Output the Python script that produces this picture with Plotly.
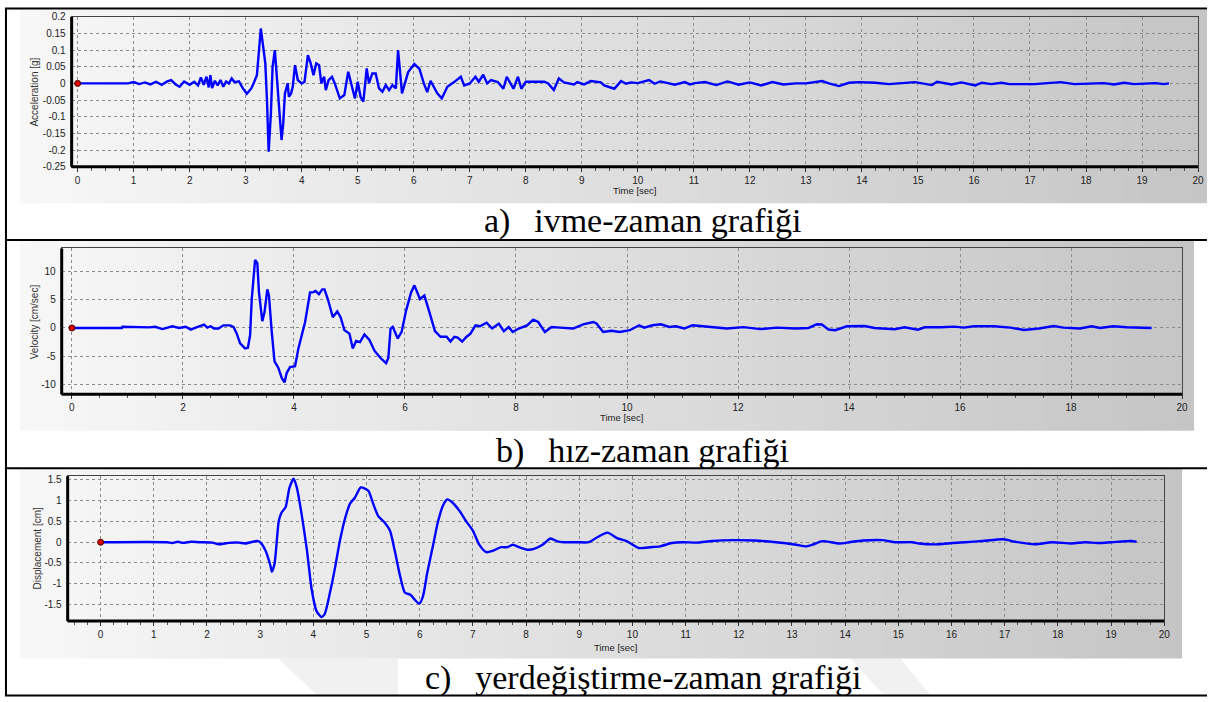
import plotly.graph_objects as go

W, H = 1213, 702

# ---- values, time in seconds ----
ACC_T = [0, 0.9, 1.0, 1.1, 1.2, 1.3, 1.4, 1.5, 1.6, 1.67, 1.75, 1.82, 1.9, 2.0, 2.08, 2.15, 2.2, 2.25,
         2.3, 2.34, 2.37, 2.4, 2.45, 2.5, 2.55, 2.6, 2.65, 2.7, 2.75, 2.8, 2.88, 2.95, 3.02, 3.1, 3.14,
         3.2, 3.27, 3.31, 3.35, 3.38, 3.41, 3.45, 3.48, 3.52, 3.56, 3.6, 3.64, 3.67, 3.7, 3.75, 3.77,
         3.81, 3.84, 3.88, 3.93, 4.0, 4.05, 4.11, 4.16, 4.21, 4.26, 4.31, 4.35, 4.4, 4.43, 4.48, 4.54,
         4.59, 4.68, 4.76, 4.83, 4.89, 4.95, 5.0, 5.05, 5.1, 5.16, 5.2, 5.26, 5.32, 5.38, 5.44, 5.5,
         5.56, 5.62, 5.68, 5.72, 5.79, 5.9, 6.01, 6.1, 6.18, 6.24, 6.3, 6.42, 6.5, 6.6, 6.72, 6.84,
         6.9, 7.0, 7.1, 7.16, 7.24, 7.31, 7.38, 7.5, 7.6, 7.66, 7.78, 7.86, 7.92, 8.0, 8.33, 8.4, 8.5,
         8.59, 8.68, 8.86, 8.92, 9.04, 9.16, 9.34, 9.4, 9.58, 9.7, 9.79, 9.88, 10.0, 10.2, 10.3, 10.4,
         10.58, 10.66, 10.84, 10.93, 11.02, 11.2, 11.4, 11.6, 11.8, 12.0, 12.2, 12.4, 12.6, 12.82,
         13.0, 13.29, 13.41, 13.59, 13.77, 13.95, 14.24, 14.48, 14.95, 15.25, 15.34, 15.6, 15.78,
         16.02, 16.14, 16.31, 16.49, 16.63, 17.08, 17.55, 17.79, 18.32, 18.5, 18.68, 18.86, 19.24,
         19.39, 19.48]
ACC_G = [0, 0, 0.004, -0.002, 0.003, -0.003, 0.005, -0.004, 0.006, 0.01, -0.003, -0.01, 0.006, -0.004,
         0.005, -0.006, 0.018, -0.004, 0.02, -0.012, 0.025, -0.014, 0.008, -0.006, 0.01, -0.01, 0.006,
         0.0, 0.015, 0.004, 0.006, -0.015, -0.031, -0.015, 0.0, 0.025, 0.165, 0.12, 0.06, -0.05,
         -0.205, -0.09, 0.05, 0.1, 0.02, -0.08, -0.17, -0.12, -0.03, 0.0, -0.04, -0.03, -0.01, 0.055,
         0.01, 0.0, 0.005, 0.085, 0.06, 0.025, 0.06, 0.055, 0.0, 0.02, -0.02, 0.01, 0.02, 0.0, -0.045,
         -0.035, 0.035, -0.01, -0.045, 0.005, -0.04, -0.055, 0.045, 0.0, 0.03, 0.03, -0.015, -0.025,
         -0.005, -0.02, -0.005, -0.015, 0.1, -0.03, 0.034, 0.058, 0.044, 0.0, -0.026, 0.008, -0.03,
         -0.045, -0.01, 0.004, 0.02, -0.006, 0.0, 0.02, 0.005, 0.026, 0.0, 0.01, 0.004, -0.016, 0.02,
         -0.016, 0.02, -0.016, 0.005, 0.005, 0.0, -0.02, 0.015, 0.003, -0.003, 0.004, -0.003, 0.007,
         0.003, -0.006, -0.016, 0.007, -0.001, 0.003, 0.001, 0.01, -0.001, 0.006, -0.001, -0.004, 0.004,
         -0.003, 0.001, 0.004, -0.005, 0.006, -0.004, 0.003, -0.006, 0.004, -0.003, 0.0, 0.0, 0.007,
         0.0, -0.008, 0.002, 0.004, 0.002, -0.002, 0.004, -0.005, 0.005, -0.003, 0.003, -0.006, 0.002,
         -0.002, 0.002, -0.002, -0.002, 0.004, -0.002, 0.001, -0.003, 0.002, -0.002, 0.001, -0.002, 0.0]

VEL_T = [0, 0.9, 0.91, 1.15, 1.39, 1.5, 1.63, 1.81, 1.93, 2.05, 2.14, 2.23, 2.29, 2.38, 2.44, 2.5, 2.56,
         2.64, 2.73, 2.85, 2.91, 2.97, 3.03, 3.12, 3.17, 3.21, 3.24, 3.3, 3.34, 3.37, 3.43, 3.47, 3.52,
         3.55, 3.6, 3.65, 3.72, 3.78, 3.83, 3.87, 3.93, 4.02, 4.08, 4.14, 4.2, 4.29, 4.35, 4.39, 4.45,
         4.51, 4.55, 4.61, 4.7, 4.78, 4.84, 4.91, 5.0, 5.06, 5.12, 5.19, 5.27, 5.36, 5.45, 5.56, 5.66,
         5.7, 5.74, 5.78, 5.87, 5.94, 6.02, 6.11, 6.17, 6.27, 6.35, 6.44, 6.54, 6.64, 6.75, 6.82, 6.89,
         6.95, 7.03, 7.11, 7.18, 7.27, 7.35, 7.47, 7.57, 7.69, 7.78, 7.87, 7.94, 8.05, 8.2, 8.31, 8.4,
         8.52, 8.64, 8.79, 8.91, 9.03, 9.21, 9.39, 9.45, 9.57, 9.72, 9.87, 10.05, 10.22, 10.31, 10.46,
         10.61, 10.76, 10.88, 11.03, 11.18, 11.5, 11.8, 12.1, 12.4, 12.7, 13.03, 13.27, 13.42, 13.51,
         13.63, 13.75, 13.96, 14.28, 14.46, 14.82, 15.0, 15.24, 15.36, 15.66, 15.9, 16.07, 16.25,
         16.61, 16.91, 17.15, 17.42, 17.69, 17.86, 18.16, 18.37, 18.52, 18.76, 19.0, 19.45]
VEL_CM = [0, 0, 0.2, 0.1, 0.1, 0.2, -0.2, 0.3, 0.0, 0.2, -0.3, 0.05, 0.3, 0.6, 0.06, 0.3, -0.1, -0.1,
          0.46, 0.46, 0.2, -1.0, -2.7, -3.6, -3.5, -1.3, 5.1, 12.0, 11.4, 6.2, 1.2, 2.8, 6.8, 5.7, -0.7,
          -5.9, -7.05, -8.8, -9.6, -7.9, -6.9, -6.75, -3.6, -1.3, 1.0, 6.25, 6.3, 6.5, 5.95, 6.8, 6.8,
          5.1, 1.9, 2.9, 1.9, -0.4, -1.0, -3.6, -2.3, -2.5, -1.15, -2.1, -4.0, -5.3, -6.2, -5.3, -0.1,
          0.2, -1.85, -0.7, 3.06, 6.25, 7.5, 5.1, 5.7, 2.8, -0.57, -1.55, -1.55, -2.4, -1.55, -1.7,
          -2.4, -1.55, -1.0, 0.46, 0.3, 0.93, -0.1, 0.75, -0.57, 0.17, -0.7, -0.1, 0.46, 1.45, 1.05,
          -0.7, 0.18, 0.06, 0.0, -0.1, 0.64, 1.05, 0.8, -0.7, -0.5, -0.7, -0.4, 0.47, 0.06, 0.47, 0.64,
          0.18, 0.3, -0.1, 0.47, 0.2, -0.1, 0.15, -0.2, 0.05, -0.1, 0.0, 0.65, 0.6, -0.28, -0.4, 0.3,
          0.35, 0.0, -0.23, 0.12, -0.3, 0.12, 0.12, 0.23, 0.06, 0.3, 0.3, 0.06, -0.35, -0.1, 0.35, 0.06,
          -0.1, 0.3, 0.0, 0.3, 0.12, 0.0]

DSP_T = [0, 1.25, 1.35, 1.45, 1.55, 1.7, 1.85, 2.1, 2.22, 2.41, 2.6, 2.72, 2.94, 3.0, 3.1, 3.19, 3.22,
         3.27, 3.35, 3.4, 3.48, 3.55, 3.63, 3.69, 3.78, 3.88, 3.97, 4.06, 4.15, 4.21, 4.31, 4.41, 4.5,
         4.6, 4.69, 4.78, 4.89, 4.97, 5.04, 5.13, 5.22, 5.34, 5.44, 5.53, 5.62, 5.72, 5.83, 5.91, 5.99,
         6.06, 6.14, 6.25, 6.34, 6.44, 6.52, 6.62, 6.75, 6.87, 7.0, 7.12, 7.25, 7.37, 7.53, 7.65, 7.75,
         7.87, 8.03, 8.15, 8.31, 8.46, 8.59, 8.71, 8.96, 9.18, 9.34, 9.53, 9.71, 9.9, 10.12, 10.34,
         10.52, 10.74, 10.96, 11.21, 11.5, 11.9, 12.3, 12.7, 13.08, 13.27, 13.39, 13.55, 13.64, 13.89,
         14.08, 14.33, 14.7, 14.95, 15.26, 15.39, 15.76, 16.01, 16.26, 16.58, 16.98, 17.2, 17.57,
         17.89, 18.26, 18.51, 18.76, 19.01, 19.38, 19.48]
DSP_CM = [0, 0, -0.02, 0.01, -0.015, 0.01, 0, -0.01, -0.05, -0.015, -0.01, -0.03, 0.03, 0.0, -0.2,
          -0.55, -0.71, -0.52, 0.51, 0.71, 0.85, 1.31, 1.53, 1.31, 0.67, -0.2, -1.15, -1.66, -1.8,
          -1.74, -1.23, -0.6, 0.04, 0.59, 0.93, 1.07, 1.32, 1.29, 1.23, 0.91, 0.63, 0.475, 0.28, -0.2,
          -0.75, -1.21, -1.27, -1.39, -1.48, -1.31, -0.75, -0.08, 0.475, 0.89, 1.03, 0.95, 0.75, 0.51,
          0.28, -0.06, -0.24, -0.21, -0.12, -0.12, -0.06, -0.12, -0.18, -0.16, -0.06, 0.09, 0.02, 0.0,
          0.0, 0.0, 0.12, 0.23, 0.1, 0.02, -0.14, -0.12, -0.1, -0.02, 0.0, -0.01, 0.03, 0.05, 0.04,
          0.0, -0.06, -0.1, -0.06, 0.02, 0.02, -0.03, 0.0, 0.04, 0.05, 0.0, 0.0, -0.03, -0.05, -0.02,
          0.0, 0.03, 0.07, 0.01, -0.05, 0.0, -0.03, 0.0, -0.02, 0.0, 0.03, 0.01]

ACC_YTICKS = [0.2, 0.15, 0.1, 0.05, 0, -0.05, -0.1, -0.15, -0.2, -0.25]
ACC_YLABELS = ["0.2", "0.15", "0.1", "0.05", "0", "-0.05", "-0.1", "-0.15", "-0.2", "-0.25"]
VEL_YTICKS = [10, 5, 0, -5, -10]
VEL_YLABELS = ["10", "5", "0", "-5", "-10"]
DSP_YTICKS = [1.5, 1, 0.5, 0, -0.5, -1, -1.5]
DSP_YLABELS = ["1.5", "1", "0.5", "0", "-0.5", "-1", "-1.5"]

Y_TITLES = ["Acceleration [g]", "Velocity [cm/sec]", "Displacement [cm]"]
X_TITLE = "Time [sec]"
CAPTIONS = ["a)\u2002\u2009ivme-zaman grafiği",
            "b)\u2002\u2009hız-zaman grafiği",
            "c)\u2002\u2009yerdeğiştirme-zaman grafiği"]

# ---- layout in screen pixels ----
PANELS = [
    dict(t=ACC_T, v=ACC_G, yt=ACC_YTICKS, yl=ACC_YLABELS, box=(72, 12, 1204, 164),
         bg=(20, 5, 1213, 201), xr=[-0.107, 20], yr=[-0.25, 0.2], dtick=1, minor=0.25,
         ytx=35, xty=188, capy=219, shape="linear"),
    dict(t=VEL_T, v=VEL_CM, yt=VEL_YTICKS, yl=VEL_YLABELS, box=(62, 247, 1188, 395),
         bg=(20, 239, 1200, 432), xr=[-0.184, 20], yr=[-11.7, 14], dtick=2, minor=0.5,
         ytx=35, xty=418, capy=452, shape="linear"),
    dict(t=DSP_T, v=DSP_CM, yt=DSP_YTICKS, yl=DSP_YLABELS, box=(68, 478, 1170, 625),
         bg=(20, 470, 1188, 663), xr=[-0.62, 20], yr=[-1.9, 1.59], dtick=1, minor=0.25,
         ytx=38, xty=652, capy=683, shape="spline"),
]
BORDER_Y = [3.5, 238.5, 470, 700.5]
TICK_FONT = dict(family="Liberation Sans, Arial", size=10, color="#222")
# faint pieces of the page watermark showing under the last caption
WATERMARK = [[(280, 663), (400, 663), (400, 700), (318, 700)],
             [(855, 663), (905, 663), (935, 700), (888, 700)]]


def fx(px):
    return px / W


def fy(py):
    return 1 - py / H


def gray(frac):
    c = int(round(247 - 50 * frac))
    return f"rgb({c},{c},{c})"


fig = go.Figure()
shapes, annotations = [], []

for poly in WATERMARK:
    path = "M " + " L ".join(f"{fx(a):.5f},{fy(b):.5f}" for a, b in poly) + " Z"
    shapes.append(dict(type="path", path=path, xref="paper", yref="paper", layer="below",
                       fillcolor="#f1f1f1", line=dict(width=0)))

for i, p in enumerate(PANELS):
    n = "" if i == 0 else str(i + 1)
    x0, y0, x1, y1 = p["box"]

    # gradient backdrop of the chart image
    bx0, by0, bx1, by1 = p["bg"]
    steps = 70
    sw = (bx1 - bx0) / steps
    for k in range(steps):
        shapes.append(dict(type="rect", xref="paper", yref="paper", layer="below",
                           x0=fx(bx0 + k * sw), x1=fx(min(bx1, bx0 + (k + 1) * sw + 0.6)),
                           y0=fy(by1), y1=fy(by0), line=dict(width=0),
                           fillcolor=gray(k / (steps - 1))))

    fig.add_trace(go.Scatter(x=p["t"], y=p["v"], mode="lines", xaxis="x" + n, yaxis="y" + n,
                             line=dict(color="#0000ff", width=2.4, shape=p["shape"], smoothing=0.6),
                             showlegend=False, hoverinfo="skip"))
    fig.add_trace(go.Scatter(x=[p["t"][0]], y=[p["v"][0]], mode="markers", xaxis="x" + n,
                             yaxis="y" + n, showlegend=False, hoverinfo="skip",
                             marker=dict(color="#e00000", size=6, line=dict(color="#400000", width=1))))

    fig.update_layout(**{
        "xaxis" + n: dict(domain=[fx(x0), fx(x1)], anchor="y" + n, range=p["xr"], dtick=p["dtick"],
                          tick0=0, showgrid=True, gridcolor="#8c8c8c", griddash="dot", gridwidth=1,
                          zeroline=False, showline=True, mirror=True, linecolor="#444", linewidth=1,
                          ticks="outside", ticklen=4, tickcolor="#333", tickfont=TICK_FONT,
                          minor=dict(dtick=p["minor"], ticks="outside", ticklen=3, tickcolor="#555",
                                     showgrid=False)),
        "yaxis" + n: dict(domain=[fy(y1), fy(y0)], anchor="x" + n, range=p["yr"], tickvals=p["yt"],
                          ticktext=p["yl"], showgrid=True, gridcolor="#8c8c8c", griddash="dot",
                          gridwidth=1, zeroline=False, showline=True, mirror=True, linecolor="#444",
                          linewidth=1, ticks="", ticklabelstandoff=3, tickfont=TICK_FONT),
    })

    # heavy left and bottom frame
    for (ax0, ay0, ax1, ay1) in [(0, 0, 0, 1), (0, 0, 1, 0)]:
        shapes.append(dict(type="line", xref=f"x{n} domain", yref=f"y{n} domain",
                           x0=ax0, y0=ay0, x1=ax1, y1=ay1, line=dict(color="#000", width=3)))

    annotations.append(dict(text=Y_TITLES[i], xref="paper", yref="paper", x=fx(p["ytx"]),
                            y=fy((y0 + y1) / 2), textangle=-90, showarrow=False,
                            xanchor="center", yanchor="middle",
                            font=dict(family="Liberation Sans, Arial", size=10, color="#333")))
    annotations.append(dict(text=X_TITLE, xref="paper", yref="paper", x=fx((x0 + x1) / 2),
                            y=fy(p["xty"]), showarrow=False, xanchor="center", yanchor="middle",
                            font=dict(family="Liberation Sans, Arial", size=9.5, color="#222")))
    annotations.append(dict(text=CAPTIONS[i], xref="paper", yref="paper", x=fx(646),
                            y=fy(p["capy"]), showarrow=False, xanchor="center", yanchor="middle",
                            font=dict(family="Liberation Serif, Times New Roman", size=34,
                                      color="#000")))

# table frame around the three panels
for by in BORDER_Y:
    shapes.append(dict(type="line", xref="paper", yref="paper", x0=fx(5), x1=1,
                       y0=fy(by), y1=fy(by), line=dict(color="#000", width=2)))
shapes.append(dict(type="line", xref="paper", yref="paper", x0=fx(6), x1=fx(6),
                   y0=fy(BORDER_Y[0]), y1=fy(BORDER_Y[-1]), line=dict(color="#000", width=2)))

fig.update_layout(width=W, height=H, margin=dict(l=0, r=0, t=0, b=0), paper_bgcolor="white",
                  plot_bgcolor="rgba(0,0,0,0)", shapes=shapes, annotations=annotations)

# drop the browser's default 8px body margin so the page lines up with the window
fig.write_html("out.html", config={"displayModeBar": False},
               post_script="document.body.style.margin='0';")
